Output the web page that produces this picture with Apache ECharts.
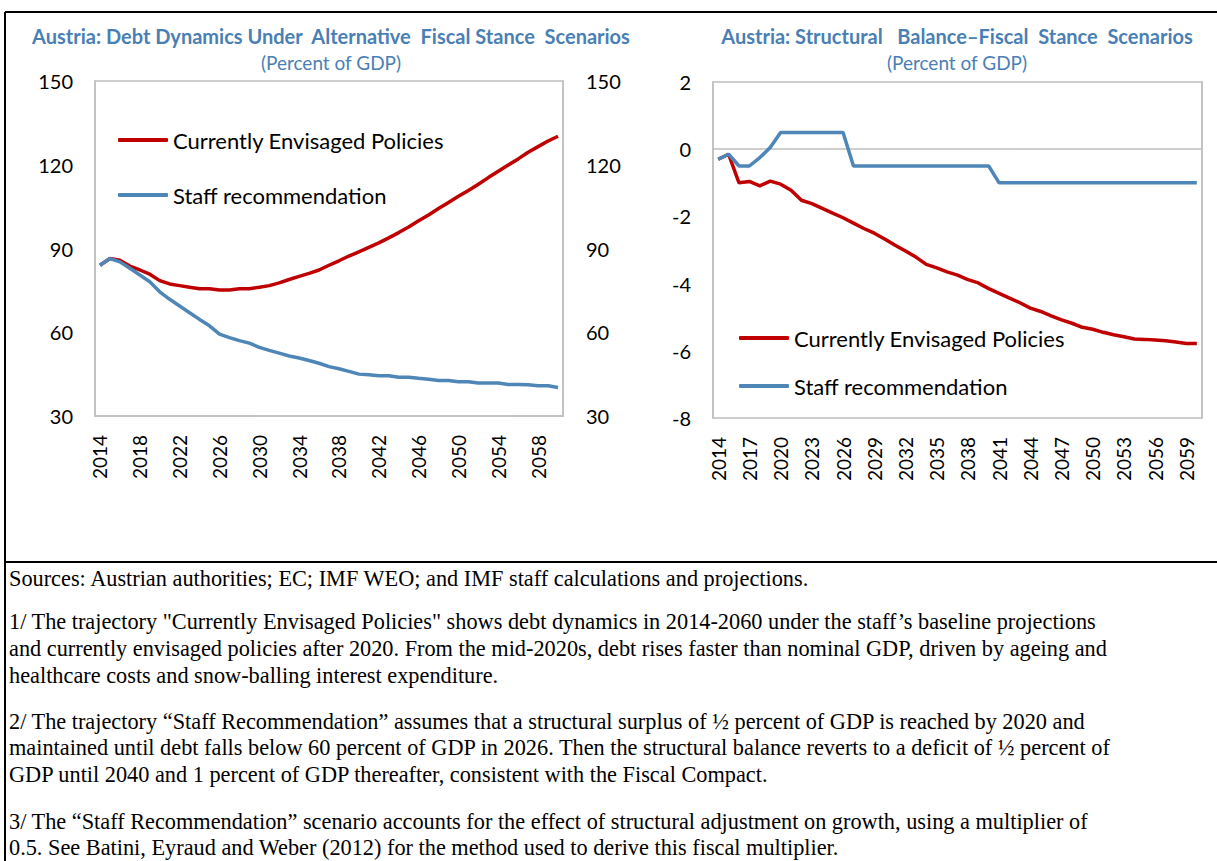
<!DOCTYPE html>
<html>
<head>
<meta charset="utf-8">
<title>Austria: Fiscal Stance Scenarios</title>
<script src="https://cdn.jsdelivr.net/npm/echarts@6/dist/echarts.min.js"></script>
<style>
    html, body { margin: 0; padding: 0; background: #fff; }
    #chart { width: 1217px; height: 861px; }
</style>
</head>
<body>
<div id="chart"></div>
<script>
// 年份 2014-2060
const years = [];
for (let y = 2014; y <= 2060; y++) years.push(String(y));

// 左图：债务 (占 GDP 百分比)
const debtCurrent = [84.0, 86.4, 85.8, 83.7, 82.3, 80.8, 78.5, 77.3, 76.7, 76.1,
    75.6, 75.6, 75.1, 75.1, 75.6, 75.6, 76.1, 76.7, 77.7, 78.9,
    80.0, 81.1, 82.3, 84.0, 85.6, 87.3, 88.8, 90.4, 92.0, 93.8,
    95.7, 97.7, 99.9, 102.0, 104.3, 106.5, 108.7, 110.8, 113.0, 115.4,
    117.7, 119.9, 122.1, 124.5, 126.5, 128.5, 130.2];
const debtStaff = [84.0, 86.4, 85.2, 82.9, 80.5, 78.1, 74.5, 71.8, 69.4, 67.0,
    64.6, 62.3, 59.3, 58.1, 57.0, 56.1, 54.6, 53.5, 52.5, 51.5,
    50.8, 49.9, 48.9, 47.7, 46.9, 46.0, 45.0, 44.8, 44.4, 44.4,
    43.9, 43.9, 43.5, 43.2, 42.7, 42.7, 42.3, 42.3, 41.8, 41.8,
    41.8, 41.3, 41.3, 41.2, 40.8, 40.8, 40.2];

// 右图：结构性余额
const balanceCurrent = [-0.3, -0.15, -1.0, -0.96, -1.09, -0.95, -1.04, -1.22, -1.52, -1.62,
    -1.76, -1.90, -2.04, -2.20, -2.36, -2.50, -2.67, -2.86, -3.03, -3.21,
    -3.43, -3.53, -3.65, -3.75, -3.88, -3.98, -4.15, -4.29, -4.43, -4.57,
    -4.73, -4.83, -4.96, -5.08, -5.18, -5.30, -5.36, -5.45, -5.52, -5.58,
    -5.65, -5.66, -5.68, -5.70, -5.74, -5.78, -5.78];
const balanceStaff = [-0.3, -0.15, -0.5, -0.5, -0.25, 0.05, 0.5, 0.5, 0.5, 0.5,
    0.5, 0.5, 0.5, -0.5, -0.5, -0.5, -0.5, -0.5, -0.5, -0.5,
    -0.5, -0.5, -0.5, -0.5, -0.5, -0.5, -0.5, -1.0, -1.0, -1.0,
    -1.0, -1.0, -1.0, -1.0, -1.0, -1.0, -1.0, -1.0, -1.0, -1.0,
    -1.0, -1.0, -1.0, -1.0, -1.0, -1.0, -1.0];

const seriesNames = ['Currently Envisaged Policies', 'Staff recommendation'];

// 注释文字（逐行）
const notes = [
    ['Sources: Austrian authorities; EC; IMF WEO; and IMF staff calculations and projections.', 578],
    ['1/ The trajectory "Currently Envisaged Policies" shows debt dynamics in 2014-2060 under the staff\u2019s baseline projections', 621],
    ['and currently envisaged policies after 2020. From the mid-2020s, debt rises faster than nominal GDP, driven by ageing and', 648],
    ['healthcare costs and snow-balling interest expenditure.', 675],
    ['2/ The trajectory \u201cStaff Recommendation\u201d assumes that a structural surplus of \u00bd percent of GDP is reached by 2020 and', 721],
    ['maintained until debt falls below 60 percent of GDP in 2026. Then the structural balance reverts to a deficit of \u00bd percent of', 747],
    ['GDP until 2040 and 1 percent of GDP thereafter, consistent with the Fiscal Compact.', 774],
    ['3/ The \u201cStaff Recommendation\u201d scenario accounts for the effect of structural adjustment on growth, using a multiplier of', 821],
    ['0.5. See Batini, Eyraud and Weber (2012) for the method used to derive this fiscal multiplier.', 847]
];

const RED = '#c00000';
const BLUE = '#4f86b8';
const TITLE = '#4a7fb5';
const GRAY = '#bfbfbf';
const FONT = 'Lato';

const chart = echarts.init(document.getElementById('chart'), null, { renderer: 'svg' });

const tickStyle = { inside: true, length: 7, lineStyle: { color: GRAY, width: 1.5 } };
const lineAxis = { show: true, lineStyle: { color: GRAY, width: 1.5 } };
const labelStyle = { color: '#000', fontFamily: FONT, fontSize: 20 };
const legendText = { color: '#000', fontFamily: FONT, fontSize: 22, lineHeight: 26 };

function makeLine(name, data, color, xi, yi) {
    return {
        name: name, type: 'line', data: data,
        xAxisIndex: xi, yAxisIndex: yi,
        symbol: 'none', smooth: false,
        lineStyle: { color: color, width: 3.5 },
        itemStyle: { color: color }
    };
}

function makeTitle(text, cx) {
    return {
        text: text, subtext: '(Percent of GDP)',
        left: cx, top: 26, textAlign: 'center', itemGap: 7, padding: 0,
        textStyle: { color: TITLE, fontFamily: FONT, fontSize: 20, fontWeight: 'bold' },
        subtextStyle: { color: TITLE, fontFamily: FONT, fontSize: 19 }
    };
}

const option = {
    animation: false,
    title: [
        makeTitle('Austria: Debt Dynamics Under  Alternative  Fiscal Stance  Scenarios', 331),
        makeTitle('Austria: Structural   Balance\u2013Fiscal  Stance  Scenarios', 957)
    ],
    legend: [
        {
            data: seriesNames, orient: 'vertical', left: 118, top: 127, padding: 0,
            icon: 'roundRect', itemWidth: 50, itemHeight: 4, itemGap: 29,
            textStyle: legendText, selectedMode: false
        },
        {
            data: seriesNames, orient: 'vertical', left: 739, top: 325, padding: 0,
            icon: 'roundRect', itemWidth: 50, itemHeight: 4, itemGap: 22,
            textStyle: legendText, selectedMode: false
        }
    ],
    grid: [
        { left: 95, top: 81, width: 468, height: 335, show: true, borderColor: GRAY, borderWidth: 1.5 },
        { left: 713, top: 82, width: 489, height: 336, show: true, borderColor: GRAY, borderWidth: 1.5 }
    ],
    xAxis: [
        {   // 左图年份
            type: 'category', gridIndex: 0, data: years, boundaryGap: true,
            axisLine: lineAxis,
            axisTick: Object.assign({ interval: 0 }, tickStyle, { length: 6 }),
            axisLabel: Object.assign({ interval: 3, rotate: 90, margin: 19 }, labelStyle, { fontSize: 19 })
        },
        {   // 右图年份标签（底部）
            type: 'category', gridIndex: 1, data: years, boundaryGap: true, position: 'bottom',
            axisLine: { show: false, onZero: false }, axisTick: { show: false },
            axisLabel: Object.assign({ interval: 2, rotate: 90, margin: 19 }, labelStyle, { fontSize: 19 })
        },
        {   // 右图零线
            type: 'category', gridIndex: 1, data: years, boundaryGap: true, position: 'bottom',
            axisLine: { show: true, onZero: true, lineStyle: { color: GRAY, width: 1.5 } },
            axisTick: Object.assign({ interval: 4 }, tickStyle),
            axisLabel: { show: false }
        }
    ],
    yAxis: [
        {
            type: 'value', gridIndex: 0, position: 'left', min: 30, max: 150, interval: 30,
            axisLine: lineAxis, axisTick: tickStyle, splitLine: { show: false },
            axisLabel: Object.assign({ margin: 22 }, labelStyle)
        },
        {
            type: 'value', gridIndex: 0, position: 'right', min: 30, max: 150, interval: 30,
            axisLine: lineAxis, axisTick: tickStyle, splitLine: { show: false },
            axisLabel: Object.assign({ margin: 23 }, labelStyle)
        },
        {
            type: 'value', gridIndex: 1, position: 'left', min: -8, max: 2, interval: 2,
            axisLine: lineAxis, axisTick: tickStyle, splitLine: { show: false },
            axisLabel: Object.assign({ margin: 22 }, labelStyle)
        },
        {
            type: 'value', gridIndex: 1, position: 'right', min: -8, max: 2, interval: 2,
            axisLine: lineAxis, axisTick: tickStyle, splitLine: { show: false },
            axisLabel: { show: false }
        }
    ],
    series: [
        makeLine(seriesNames[0], debtCurrent, RED, 0, 0),
        makeLine(seriesNames[1], debtStaff, BLUE, 0, 0),
        makeLine(seriesNames[0], balanceCurrent, RED, 2, 2),
        makeLine(seriesNames[1], balanceStaff, BLUE, 2, 2)
    ],
    graphic: [
        // 外框线
        { type: 'line', shape: { x1: 5, y1: 12, x2: 1217, y2: 12 }, style: { stroke: '#000', lineWidth: 2 } },
        { type: 'line', shape: { x1: 5, y1: 12, x2: 5, y2: 861 }, style: { stroke: '#000', lineWidth: 2 } },
        { type: 'line', shape: { x1: 5, y1: 562, x2: 1217, y2: 562 }, style: { stroke: '#000', lineWidth: 2 } }
    ].concat(notes.map(n => ({
        type: 'text', x: 9, y: n[1],
        style: {
            text: n[0], fill: '#000', verticalAlign: 'middle',
            font: '22.3px "Liberation Serif", "Times New Roman", serif'
        }
    })))
};

chart.setOption(option);
</script>
</body>
</html>
